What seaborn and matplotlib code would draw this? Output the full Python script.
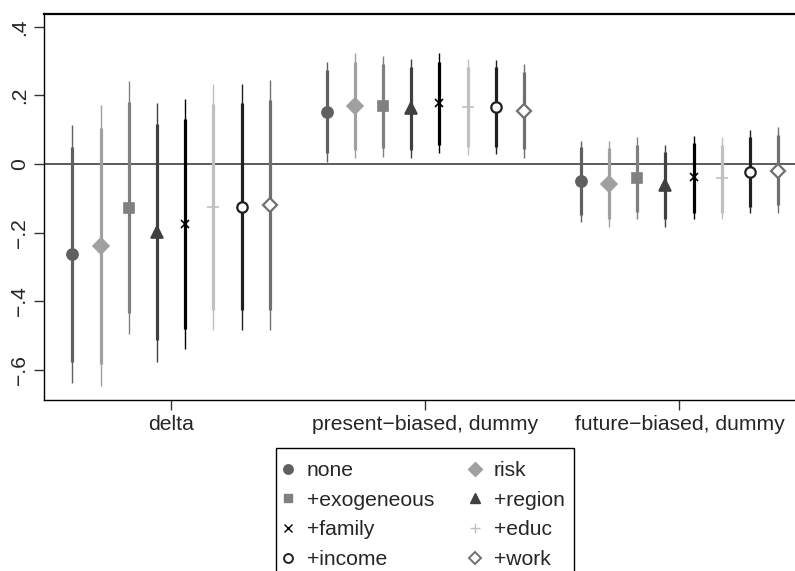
import numpy as np
import matplotlib
matplotlib.use("Agg")
import matplotlib.pyplot as plt
from matplotlib.lines import Line2D
from matplotlib.patches import Rectangle
import seaborn as sns

# ==================================================
# DATA
# ==================================================
groups = ["delta", "present\u2212biased, dummy", "future\u2212biased, dummy"]
models = ["none", "risk", "+exogeneous", "+region", "+family", "+educ", "+income", "+work"]

# point estimates, one list per group, in model order
b_delta = [-0.262, -0.239, -0.129, -0.197, -0.175, -0.126, -0.124, -0.120]
b_present = [0.152, 0.170, 0.169, 0.162, 0.179, 0.167, 0.167, 0.155]
b_future = [-0.050, -0.058, -0.040, -0.061, -0.039, -0.042, -0.022, -0.020]

# inner (thick) interval
lo90_delta = [-0.576, -0.583, -0.435, -0.513, -0.482, -0.426, -0.426, -0.426]
hi90_delta = [0.050, 0.104, 0.182, 0.117, 0.130, 0.175, 0.177, 0.187]
lo90_present = [0.031, 0.041, 0.046, 0.041, 0.055, 0.050, 0.050, 0.043]
hi90_present = [0.274, 0.298, 0.292, 0.282, 0.298, 0.284, 0.282, 0.269]
lo90_future = [-0.149, -0.161, -0.139, -0.161, -0.142, -0.142, -0.124, -0.120]
hi90_future = [0.049, 0.046, 0.055, 0.036, 0.062, 0.055, 0.080, 0.085]

# outer (thin) interval
lo95_delta = [-0.638, -0.647, -0.497, -0.576, -0.540, -0.484, -0.484, -0.484]
hi95_delta = [0.113, 0.172, 0.242, 0.177, 0.190, 0.233, 0.233, 0.245]
lo95_present = [0.007, 0.017, 0.021, 0.018, 0.031, 0.026, 0.028, 0.017]
hi95_present = [0.296, 0.323, 0.315, 0.305, 0.323, 0.306, 0.303, 0.293]
lo95_future = [-0.168, -0.185, -0.161, -0.183, -0.161, -0.161, -0.144, -0.142]
hi95_future = [0.068, 0.068, 0.078, 0.055, 0.083, 0.078, 0.099, 0.107]

yticks = [-0.6, -0.4, -0.2, 0, 0.2, 0.4]
ytick_labels = ["\u2212.6", "\u2212.4", "\u2212.2", "0", ".2", ".4"]

# ==================================================
# STYLE
# ==================================================
sns.set_theme(style="white")
plt.rcParams["font.family"] = ["Liberation Sans", "DejaVu Sans"]
fs = 15.2

colors = ["#606060", "#a0a0a0", "#808080", "#404040",
          "#000000", "#c0c0c0", "#202020", "#707070"]
markers = ["o", "D", "s", "^", "x", "+", "o", "D"]
filled = [True, True, True, True, True, True, False, False]
msizes = [8, 8, 7.5, 8.5, 6, 8, 7.5, 7.5]

b_all = [b_delta, b_present, b_future]
lo90_all = [lo90_delta, lo90_present, lo90_future]
hi90_all = [hi90_delta, hi90_present, hi90_future]
lo95_all = [lo95_delta, lo95_present, lo95_future]
hi95_all = [hi95_delta, hi95_present, hi95_future]

# ==================================================
# PLOT
# ==================================================
fig = plt.figure(figsize=(7.95, 5.71), dpi=100)
ax = fig.add_axes([44 / 795, 1 - 400 / 571, 762.5 / 795, 386.5 / 571])

ax.axhline(0, color="#404040", lw=1.2, zorder=1)

n = len(models)
step = 0.111
for g in range(len(groups)):
    for i in range(n):
        x = g + 1 + (i - (n - 1) / 2) * step
        c = colors[i]
        ax.plot([x, x], [lo95_all[g][i], hi95_all[g][i]], color=c, lw=1.0,
                solid_capstyle="butt", zorder=2)
        ax.plot([x, x], [lo90_all[g][i], hi90_all[g][i]], color=c, lw=2.3,
                solid_capstyle="butt", zorder=3)
        ax.plot(x, b_all[g][i], marker=markers[i], ms=msizes[i],
                color=c, mfc=c if filled[i] else "white",
                mec=c, mew=1.6 if not filled[i] else 1.2, zorder=4)

ax.set_xlim(0.5, 3.5)
ax.set_ylim(-0.688, 0.4388)
ax.set_xticks([1, 2, 3])
ax.set_xticklabels(groups, fontsize=fs)
ax.set_yticks(yticks)
ax.set_yticklabels(ytick_labels, fontsize=fs, rotation=90, va="center")

ax.tick_params(axis="both", direction="out", length=7, width=1,
               color="#333333", left=True, bottom=True, pad=4)
for side in ["left", "bottom", "top"]:
    ax.spines[side].set_color("black")
    ax.spines[side].set_linewidth(1.0)
ax.spines["top"].set_linewidth(1.6)
ax.spines["right"].set_visible(False)

# ==================================================
# LEGEND (frame drawn separately, runs off the bottom edge)
# ==================================================
handles = []
for i in range(n):
    c = colors[i]
    handles.append(Line2D([], [], linestyle="none", marker=markers[i],
                          ms=msizes[i] * 0.85, color=c,
                          mfc=c if filled[i] else "white", mec=c,
                          mew=1.4 if not filled[i] else 1.0))
order = [0, 2, 4, 6, 1, 3, 5, 7]
leg = fig.legend([handles[k] for k in order], [models[k] for k in order],
                 ncol=2, loc="upper left",
                 bbox_to_anchor=(279.6 / 795, 1 - 461.3 / 571),
                 fontsize=fs, frameon=False,
                 handlelength=0.8, handletextpad=0.5,
                 columnspacing=1.5, labelspacing=0.5, borderpad=0,
                 borderaxespad=0)

fig.patches.append(Rectangle((276 / 795, -0.05), (574 - 276) / 795,
                             (1 - 448 / 571) + 0.05,
                             transform=fig.transFigure, fill=False,
                             edgecolor="black", linewidth=1.0))

fig.savefig("out.png", dpi=100)
plt.close()
